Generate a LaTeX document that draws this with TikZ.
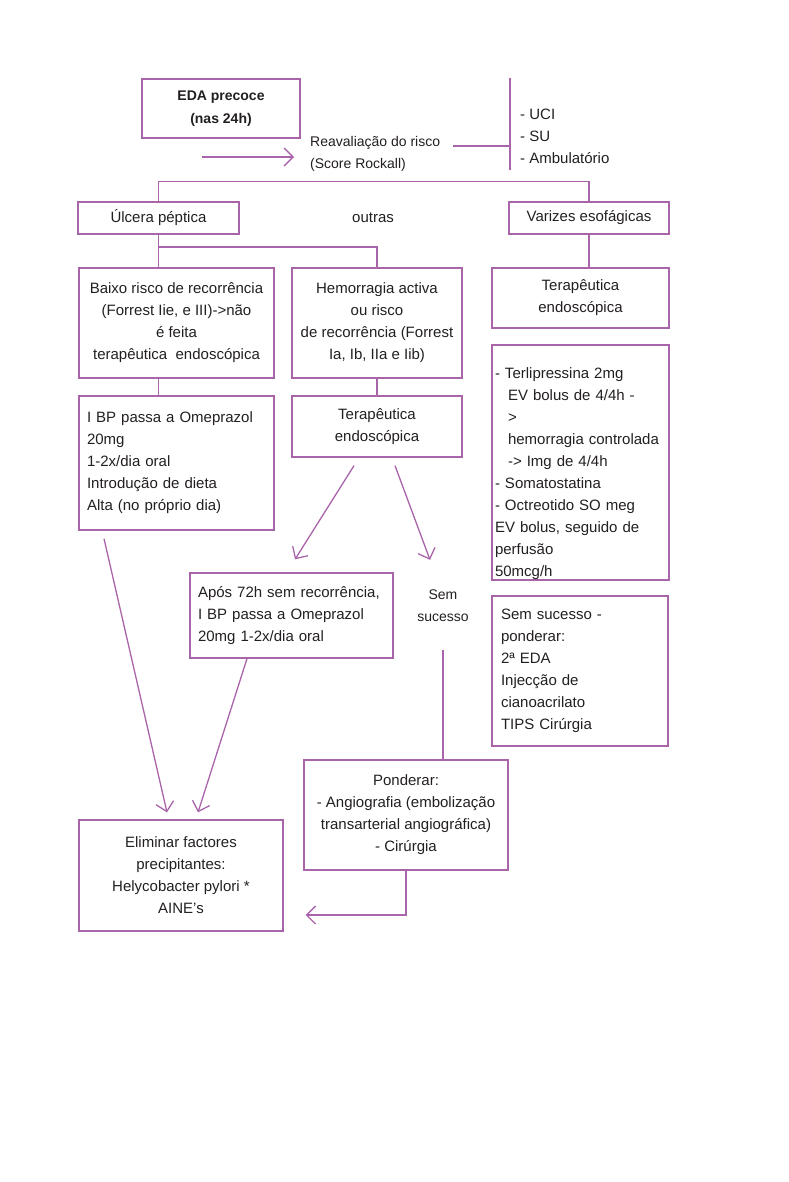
\documentclass[tikz,border=0pt]{standalone}
\usepackage{fontspec}
\setmainfont{Liberation Sans}
\usetikzlibrary{arrows.meta}
\definecolor{lila}{RGB}{170,100,170}
\definecolor{ink}{RGB}{35,31,32}
\begin{document}
\begin{tikzpicture}[x=1pt,y=-1pt]

  \tikzstyle{box}=[shape=rectangle,draw=lila,line width=1.3pt,inner sep=0pt,align=center,text=ink]

  \tikzstyle{boxLeft}=[box,align=left,inner xsep=8pt]

  \tikzstyle{plain}=[align=left,text=ink,inner sep=0pt]

  \tikzstyle{lineDecorate}=[draw=lila,line width=1.3pt]

  \tikzstyle{arrowDecorate}=[lineDecorate,-{Straight Barb[length=9pt,width=18pt]}]

\useasboundingbox (0,0) rectangle (788,1182);
\fontsize{15}{22}\selectfont

%% nodes or vertices

\node (eda)[box,font=\bfseries\fontsize{14}{23}\selectfont,minimum width=158pt,minimum height=59pt] at (221,108.5) {EDA precoce\\(nas 24h)};

\node (reav)[plain,font=\fontsize{14}{22}\selectfont,anchor=west] at (310,154) {Reavaliação do risco\\(Score Rockall)};

\node (dest)[plain,anchor=west] at (520,136.5) {- UCI\\- SU\\- Ambulatório};

\node (ulcera)[box,minimum width=161pt,minimum height=32pt] at (158.5,218) {Úlcera péptica};

\node (outras)[plain] at (373,218) {outras};

\node (varizes)[box,minimum width=160pt,minimum height=32pt] at (589,218) {Varizes esofágicas};

\node (baixo)[box,minimum width=195pt,minimum height=110pt] at (176.5,323) {Baixo risco de recorrência\\(Forrest Iie, e III)->não\\é feita\\terapêutica\ \ endoscópica};

\node (hemorr)[box,minimum width=170pt,minimum height=110pt] at (377,323) {Hemorragia activa\\ou risco\\de recorrência (Forrest\\Ia, Ib, IIa e Iib)};

\node (terapR)[box,minimum width=177pt,minimum height=60pt] at (580.5,298) {Terapêutica\\endoscópica};

\node (ibp)[boxLeft,text width=179pt,minimum height=134pt] at (176.5,463) {I BP passa a Omeprazol\\20mg\\1-2x/dia oral\\Introdução de dieta\\Alta (no próprio dia)};

\node (terapM)[box,minimum width=170pt,minimum height=61pt] at (377,426.5) {Terapêutica\\endoscópica};

\node (terli)[boxLeft,inner xsep=3pt,text width=171pt,minimum height=235pt] at (580.5,462.5) {\rule{0pt}{34pt}- Terlipressina 2mg\\\hspace*{13pt}EV bolus de 4/4h -\\\hspace*{13pt}>\\\hspace*{13pt}hemorragia controlada\\\hspace*{13pt}-> Img de 4/4h\\- Somatostatina\\- Octreotido SO meg\\EV bolus, seguido de\\perfusão\\50mcg/h};

\node (apos)[boxLeft,text width=187pt,minimum height=85pt] at (291.5,615.5) {Após 72h sem recorrência,\\I BP passa a Omeprazol\\20mg 1-2x/dia oral};

\node (sem)[plain,align=center,font=\fontsize{14}{22}\selectfont] at (443,606) {Sem\\sucesso};

\node (semsuc)[boxLeft,inner xsep=9pt,text width=158pt,minimum height=150pt] at (580,671) {Sem sucesso -\\ponderar:\\2ª EDA\\Injecção de\\cianoacrilato\\TIPS Cirúrgia};

\node (ponder)[box,minimum width=204pt,minimum height=110pt] at (406,815) {Ponderar:\\- Angiografia (embolização\\transarterial angiográfica)\\- Cirúrgia};

\node (elim)[box,minimum width=204pt,minimum height=111pt] at (181,875.5) {Eliminar factores\\precipitantes:\\Helycobacter pylori *\\AINE’s};

\coordinate (arrStart) at (202,157);
\coordinate (arrEnd) at (294,157);
\coordinate (barTop) at (510,78);
\coordinate (barBot) at (510,170);

%% edges or lines

\draw[arrowDecorate] (arrStart) -- (arrEnd);
\draw[lineDecorate] ([xshift=13pt,yshift=8pt]reav.east) -- ([yshift=8pt]reav.east -| barTop);
\draw[lineDecorate] (barTop) -- (barBot);

\draw[lineDecorate] (ulcera.north) -- ++(0,-20) -| (varizes.north);
\draw[lineDecorate] (ulcera.south) -- (ulcera.south |- baixo.north);
\draw[lineDecorate] (ulcera.south |- 0,247) -| (hemorr.north);
\draw[lineDecorate] (varizes.south) -- (varizes.south |- terapR.north);
\draw[lineDecorate] (ulcera.south |- baixo.south) -- (ulcera.south |- ibp.north);
\draw[lineDecorate] (hemorr.south) -- (terapM.north);

\path
	([xshift=-23pt,yshift=-8pt]terapM.south) edge[arrowDecorate] ([xshift=3.5pt,yshift=13pt]apos.north)
	([xshift=18pt,yshift=-8pt]terapM.south) edge[arrowDecorate] ([xshift=-13pt,yshift=30pt]sem.north)
	([xshift=-72.5pt,yshift=-8pt]ibp.south) edge[arrowDecorate] ([xshift=-14pt,yshift=7pt]elim.north)
	([xshift=-44.5pt]apos.south) edge[arrowDecorate] ([xshift=17pt,yshift=7pt]elim.north)
;

\draw[lineDecorate] ([yshift=-28pt]sem.south) -- (sem.south |- ponder.north);
\draw[arrowDecorate] (ponder.south) |- ([xshift=22pt,yshift=-39.5pt]elim.east);

\end{tikzpicture}
\end{document}
